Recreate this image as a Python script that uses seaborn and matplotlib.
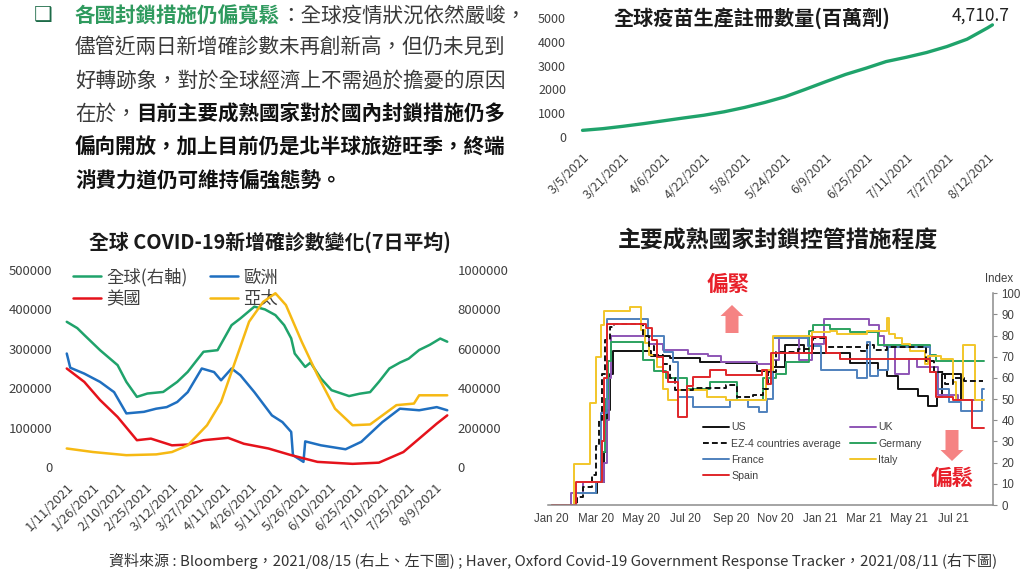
import pandas as pd
import numpy as np
import matplotlib.pyplot as plt
import matplotlib.patches as mpatches
import seaborn as sns

sns.set_theme(style='white')
plt.rcParams['font.family'] = ['Noto Sans CJK TC', 'DejaVu Sans']
plt.rcParams['axes.unicode_minus'] = False

# ---------- vaccine registrations (million doses) ----------
vax_dates = ['2021-03-05', '2021-03-13', '2021-03-21', '2021-03-29', '2021-04-06', '2021-04-14',
             '2021-04-22', '2021-04-30', '2021-05-08', '2021-05-16', '2021-05-24', '2021-06-01',
             '2021-06-09', '2021-06-17', '2021-06-25', '2021-07-03', '2021-07-11', '2021-07-19',
             '2021-07-27', '2021-08-04', '2021-08-12', '2021-08-14']
vax_vals = [280, 350, 450, 560, 680, 800, 915, 1060, 1240, 1450, 1690, 2000,
            2320, 2630, 2890, 3170, 3350, 3550, 3800, 4110, 4580, 4710.7]

# ---------- new covid cases, 7 day average ----------
glob_dates = ['2021-01-11', '2021-01-17', '2021-01-21', '2021-01-30', '2021-02-09', '2021-02-14',
              '2021-02-20', '2021-02-26', '2021-03-07', '2021-03-15', '2021-03-21', '2021-03-26',
              '2021-03-30', '2021-04-07', '2021-04-15', '2021-04-20', '2021-04-28', '2021-05-04',
              '2021-05-10', '2021-05-15', '2021-05-19', '2021-05-21', '2021-05-27', '2021-05-30',
              '2021-06-05', '2021-06-11', '2021-06-21', '2021-06-27', '2021-07-03', '2021-07-08',
              '2021-07-14', '2021-07-20', '2021-07-25', '2021-07-31', '2021-08-06', '2021-08-12',
              '2021-08-16']
glob_vals = [737000, 705000, 670000, 593000, 517000, 432000, 356000, 373000, 381000, 432000,
             483000, 540000, 585000, 593000, 720000, 754000, 814000, 800000, 771000, 720000,
             653000, 576000, 508000, 530000, 449000, 390000, 360000, 372000, 380000, 432000,
             500000, 530000, 550000, 594000, 620000, 652000, 636000]

eu_dates = ['2021-01-11', '2021-01-13', '2021-01-21', '2021-01-30', '2021-02-07', '2021-02-14',
            '2021-02-24', '2021-03-03', '2021-03-09', '2021-03-15', '2021-03-21', '2021-03-29',
            '2021-04-05', '2021-04-09', '2021-04-15', '2021-04-20', '2021-04-28', '2021-05-08',
            '2021-05-14', '2021-05-19', '2021-05-20', '2021-05-26', '2021-05-27', '2021-06-05',
            '2021-06-19', '2021-06-28', '2021-07-10', '2021-07-20', '2021-07-31', '2021-08-10',
            '2021-08-16']
eu_vals = [288000, 252000, 237000, 216000, 190000, 136000, 140000, 148000, 152000, 165000,
           190000, 250000, 241000, 220000, 250000, 233000, 190000, 131000, 114000, 89000,
           30000, 13000, 65000, 55000, 45000, 64000, 114000, 148000, 144000, 152000, 144000]

us_c_dates = ['2021-01-11', '2021-01-21', '2021-01-30', '2021-02-09', '2021-02-20', '2021-02-28',
              '2021-03-12', '2021-03-21', '2021-03-30', '2021-04-13', '2021-04-22', '2021-05-06',
              '2021-05-19', '2021-06-03', '2021-06-23', '2021-07-08', '2021-07-22', '2021-07-31',
              '2021-08-10', '2021-08-16']
us_c_vals = [250000, 216000, 170000, 127000, 68000, 72000, 55000, 57000, 68000, 74000, 59000,
             47000, 30000, 13000, 8000, 11000, 38000, 72000, 110000, 131000]

ap_dates = ['2021-01-11', '2021-01-26', '2021-02-14', '2021-03-03', '2021-03-12', '2021-03-21',
            '2021-04-01', '2021-04-09', '2021-04-17', '2021-04-25', '2021-05-03', '2021-05-10',
            '2021-05-16', '2021-05-25', '2021-06-03', '2021-06-13', '2021-06-23', '2021-07-03',
            '2021-07-18', '2021-07-28', '2021-07-31', '2021-08-16']
ap_vals = [47000, 38000, 30000, 32000, 38000, 55000, 106000, 165000, 267000, 369000, 419000,
           441000, 411000, 318000, 233000, 148000, 106000, 108000, 157000, 161000, 182000, 182000]

covid_ticks = pd.date_range('2021-01-11', '2021-08-09', freq='15D')

# ---------- stringency index ----------
us_dates = ['2020-01-01', '2020-02-03', '2020-03-03', '2020-03-12', '2020-03-16', '2020-03-20',
            '2020-03-24', '2020-05-15', '2020-06-10', '2020-07-21', '2020-08-26', '2020-10-06',
            '2020-10-26', '2020-11-14', '2020-12-10', '2021-02-10', '2021-03-20', '2021-04-01',
            '2021-04-17', '2021-05-14', '2021-05-27', '2021-06-09', '2021-06-16', '2021-07-11',
            '2021-08-10']
us_vals = [0, 5.6, 11.1, 25, 45, 62, 72.7, 70.4, 69.3, 67.7, 66.9, 63.4, 65, 75.5, 71.8,
           67.3, 64, 61, 55, 51.7, 47, 51, 62, 49.5, 49.5]

ez_dates = ['2020-01-01', '2020-02-05', '2020-02-12', '2020-02-25', '2020-03-01', '2020-03-05',
            '2020-03-10', '2020-03-14', '2020-03-20', '2020-03-26', '2020-05-04', '2020-05-12',
            '2020-05-20', '2020-06-01', '2020-06-10', '2020-06-17', '2020-07-12', '2020-08-25',
            '2020-09-10', '2020-10-01', '2020-10-15', '2020-10-22', '2020-11-02', '2020-12-01',
            '2020-12-22', '2021-01-09', '2021-02-25', '2021-03-05', '2021-03-15', '2021-04-01',
            '2021-05-25', '2021-06-05', '2021-06-20', '2021-07-01', '2021-07-15', '2021-08-10']
ez_vals = [0, 4, 8.6, 14, 28, 40, 62, 78, 84, 85.6, 80, 75, 71, 66.7, 60, 54.3, 55.5, 56.5,
           51, 52, 55, 63, 72.5, 73.5, 79, 74.5, 72.8, 75.5, 73, 74.5, 68, 63, 57, 60, 58.5, 58.5]

fr_dates = ['2020-01-01', '2020-02-01', '2020-03-01', '2020-03-08', '2020-03-16', '2020-05-11',
            '2020-06-02', '2020-06-14', '2020-06-21', '2020-07-12', '2020-08-31', '2020-09-25',
            '2020-10-10', '2020-10-20', '2020-10-28', '2020-12-15', '2021-01-02', '2021-02-20',
            '2021-03-06', '2021-03-10', '2021-03-20', '2021-04-03', '2021-05-30', '2021-06-09',
            '2021-06-25', '2021-07-12', '2021-08-09', '2021-08-12']
fr_vals = [0, 5.6, 11.1, 43.5, 88, 79.6, 72.2, 67.6, 50.9, 46.3, 49.5, 46.3, 44, 50, 78.7, 75,
           63.9, 60.2, 76.9, 61, 63.9, 74.5, 63, 55, 48.6, 44.5, 55, 55]

es_dates = ['2020-01-01', '2020-02-03', '2020-03-09', '2020-03-12', '2020-03-16', '2020-05-09',
            '2020-05-16', '2020-05-23', '2020-06-01', '2020-06-08', '2020-06-21', '2020-07-03',
            '2020-07-12', '2020-08-03', '2020-08-26', '2020-10-13', '2020-10-20', '2020-10-25',
            '2020-12-20', '2021-01-09', '2021-01-27', '2021-05-30', '2021-06-08', '2021-06-30',
            '2021-07-27', '2021-08-12']
es_vals = [0, 11.1, 30, 60, 85.6, 83.6, 78, 70, 63, 58.3, 41.7, 56, 60.6, 64, 61.4, 64, 57,
           71.6, 79.5, 71.6, 69, 62.7, 51, 49.4, 36.4, 36.4]

uk_dates = ['2020-01-01', '2020-01-28', '2020-02-12', '2020-03-12', '2020-03-16', '2020-03-19',
            '2020-03-22', '2020-05-12', '2020-06-01', '2020-07-04', '2020-08-01', '2020-08-18',
            '2020-10-06', '2020-10-26', '2020-11-05', '2020-12-03', '2020-12-20', '2021-01-06',
            '2021-03-08', '2021-03-22', '2021-03-29', '2021-04-12', '2021-05-01', '2021-05-12',
            '2021-06-10', '2021-07-08', '2021-08-10']
uk_vals = [0, 5.6, 11.1, 20, 40, 60, 79.6, 75.9, 73.1, 71.3, 70.4, 67.6, 66.7, 68.5, 79.6,
           68.5, 75.9, 87.9, 84.8, 80, 75, 62, 69, 65, 52, 49.4, 49.4]

de_dates = ['2020-01-01', '2020-02-01', '2020-03-01', '2020-03-09', '2020-03-14', '2020-03-18',
            '2020-03-22', '2020-05-04', '2020-05-20', '2020-06-05', '2020-07-03', '2020-08-03',
            '2020-09-10', '2020-10-15', '2020-11-02', '2020-11-15', '2020-12-16', '2020-12-22',
            '2021-01-14', '2021-02-10', '2021-03-20', '2021-05-30', '2021-06-08', '2021-08-12']
de_vals = [0, 5.6, 11.1, 25, 50, 68, 76.9, 68.5, 63.4, 60, 55, 58.3, 49.6, 60, 62, 67.6,
           82.4, 84.8, 83, 81.5, 75.5, 70.8, 67.8, 67.8]

it_dates = ['2020-01-01', '2020-01-31', '2020-02-22', '2020-03-01', '2020-03-08', '2020-03-12',
            '2020-04-17', '2020-05-02', '2020-05-07', '2020-05-12', '2020-05-23', '2020-06-01',
            '2020-06-08', '2020-06-21', '2020-07-31', '2020-08-25', '2020-10-19', '2020-10-28',
            '2020-12-20', '2021-01-14', '2021-01-24', '2021-03-05', '2021-04-01', '2021-04-04',
            '2021-04-12', '2021-04-22', '2021-05-03', '2021-05-24', '2021-05-28', '2021-06-14',
            '2021-06-30', '2021-07-05', '2021-07-14', '2021-07-30', '2021-08-12']
it_vals = [0, 19.4, 48, 70, 85.2, 91.7, 93.5, 82.7, 76.4, 70.9, 65.4, 55, 49.6, 54.3, 51,
           49.6, 63.8, 79.6, 81.5, 82.2, 80.6, 82.4, 88.4, 80.6, 79, 76, 72.8, 66.6, 70.5, 69,
           58, 49.4, 75.4, 49.4, 49.4]

str_ticks = pd.date_range('2020-01-01', '2021-07-01', freq='2MS')

GREEN = '#1fa36b'
BLUE = '#1f6fc0'
RED = '#e5121b'
YELLOW = '#f6b913'
TXT = '#3a3a3a'

fig = plt.figure(figsize=(10.24, 5.74), dpi=100)
W, H = 1024, 574


def box(l, t, r, b):
    return [l / W, 1 - b / H, (r - l) / W, (b - t) / H]


def mdy(d):
    return f"{d.month}/{d.day}/{d.year}"


# ---------- top right: vaccines ----------
ax1 = fig.add_axes(box(580, 18, 1000, 137))
sns.lineplot(x=pd.to_datetime(vax_dates), y=vax_vals, color=GREEN, lw=2.4, ax=ax1)
ax1.set_xlim(pd.Timestamp('2021-03-04'), pd.Timestamp('2021-08-17'))
ax1.set_ylim(0, 5000)
ax1.set_xlabel('')
ax1.set_ylabel('')
ax1.set_yticks(range(0, 5001, 1000))
vax_ticks = pd.date_range('2021-03-05', '2021-08-12', freq='16D')
ax1.set_xticks(vax_ticks)
ax1.set_xticklabels([mdy(d) for d in vax_ticks], rotation=45, ha='right', rotation_mode='anchor')
ax1.tick_params(axis='both', length=0, labelsize=9, colors='#404040')
ax1.tick_params(axis='y', pad=10)
ax1.tick_params(axis='x', pad=10)
sns.despine(ax=ax1, left=True, bottom=True)
ax1.annotate('4,710.7', xy=(pd.Timestamp(vax_dates[-1]), vax_vals[-1]), xytext=(-12, 9),
             textcoords='offset pixels', ha='center', va='center', fontsize=12.5, color='#222222')

# ---------- bottom left: covid cases ----------
ax2 = fig.add_axes(box(65, 270, 449, 467))
ax2r = ax2.twinx()
sns.lineplot(x=pd.to_datetime(glob_dates), y=glob_vals, color=GREEN, lw=1.8, ax=ax2r, label='全球(右軸)')
sns.lineplot(x=pd.to_datetime(eu_dates), y=eu_vals, color=BLUE, lw=1.8, ax=ax2, label='歐洲')
sns.lineplot(x=pd.to_datetime(us_c_dates), y=us_c_vals, color=RED, lw=1.8, ax=ax2, label='美國')
sns.lineplot(x=pd.to_datetime(ap_dates), y=ap_vals, color=YELLOW, lw=1.8, ax=ax2, label='亞太')
ax2.set_zorder(ax2r.get_zorder() + 1)
ax2.patch.set_visible(False)
for a in (ax2, ax2r):
    a.set_xlim(pd.Timestamp('2021-01-10'), pd.Timestamp('2021-08-17'))
    a.set_xlabel('')
    a.set_ylabel('')
    sns.despine(ax=a, left=True, bottom=True, right=True)
ax2.set_ylim(0, 500000)
ax2r.set_ylim(0, 1000000)
ax2.set_yticks(range(0, 500001, 100000))
ax2.set_yticklabels([str(v) for v in range(0, 500001, 100000)])
ax2r.set_yticks(range(0, 1000001, 200000))
ax2r.set_yticklabels([str(v) for v in range(0, 1000001, 200000)])
ax2.set_xticks(covid_ticks)
ax2.set_xticklabels([mdy(d) for d in covid_ticks], rotation=45, ha='right', rotation_mode='anchor')
ax2.tick_params(axis='both', length=0, labelsize=9.5, colors='#404040')
ax2.tick_params(axis='y', pad=9)
ax2.tick_params(axis='x', pad=10)
ax2r.tick_params(axis='y', length=0, labelsize=9.5, colors='#404040', pad=6)
ax2r.tick_params(axis='x', length=0, labelbottom=False)
if ax2.get_legend():
    ax2.get_legend().remove()
h_g = ax2r.get_lines()[0]
h_eu, h_us, h_ap = ax2.get_lines()[:3]
ax2r.legend([h_g, h_us, h_eu, h_ap], ['全球(右軸)', '美國', '歐洲', '亞太'], ncol=2,
            loc='upper left', bbox_to_anchor=(0.021, 1.01), frameon=False, fontsize=12.5,
            handlelength=1.6, handletextpad=0.3, columnspacing=1.3, labelspacing=0.2,
            borderpad=0, borderaxespad=0, labelcolor='#404040')

# ---------- bottom right: stringency ----------
ax3 = fig.add_axes(box(548, 293.3, 993, 505))
series = [
    ('US', us_dates, us_vals, '#111111', '-'),
    ('UK', uk_dates, uk_vals, '#8e55b5', '-'),
    ('Germany', de_dates, de_vals, '#2ca25f', '-'),
    ('France', fr_dates, fr_vals, '#4f81bd', '-'),
    ('Italy', it_dates, it_vals, '#f2c62a', '-'),
    ('EZ-4 countries average', ez_dates, ez_vals, '#111111', '--'),
    ('Spain', es_dates, es_vals, '#e0262a', '-'),
]
handles = {}
for name, d, v, c, ls in series:
    sns.lineplot(x=pd.to_datetime(d), y=v, color=c, lw=1.4, linestyle=ls,
                 drawstyle='steps-post', ax=ax3)
    handles[name] = ax3.get_lines()[-1]
handles['EZ-4 countries average'].set_dashes((3, 1.6))
ax3.set_xlim(pd.Timestamp('2019-12-27'), pd.Timestamp('2021-08-24'))
ax3.set_ylim(0, 100)
ax3.set_xlabel('')
ax3.set_ylabel('')
ax3.yaxis.tick_right()
ax3.set_yticks(range(0, 101, 10))
ax3.set_xticks(str_ticks)
ax3.set_xticklabels([d.strftime('%b %y') for d in str_ticks])
for s in ('left', 'top'):
    ax3.spines[s].set_visible(False)
for s in ('right', 'bottom'):
    ax3.spines[s].set_color('#8c8c8c')
    ax3.spines[s].set_linewidth(1.1)
ax3.tick_params(axis='both', direction='out', length=3, width=0.8, color='#8c8c8c',
                labelsize=8.3, labelcolor='#404040', pad=3)
for lab in ax3.get_xticklabels() + ax3.get_yticklabels():
    lab.set_fontfamily(['Liberation Sans', 'DejaVu Sans'])
order = ['US', 'EZ-4 countries average', 'France', 'Spain', 'UK', 'Germany', 'Italy']
leg = ax3.legend([handles[n] for n in order], order, ncol=2, loc='upper left',
                 bbox_to_anchor=(0.348, 0.39), frameon=False,
                 prop={'family': ['Liberation Sans', 'DejaVu Sans'], 'size': 7.6},
                 handlelength=2.5, handletextpad=0.2, columnspacing=0.8, labelspacing=0.58,
                 borderpad=0, borderaxespad=0, labelcolor='#404040')

# ---------- overlay: texts, arrows ----------
ov = fig.add_axes([0, 0, 1, 1], zorder=10)
ov.set_xlim(0, W)
ov.set_ylim(H, 0)
ov.axis('off')

ov.text(43, 15, '❑', family=['DejaVu Sans'], fontsize=15, color='#1d6b48', ha='center', va='center')
lines = [
    [('各國封鎖措施仍偏寬鬆', '#2f9a5e', 'bold'), ('：全球疫情狀況依然嚴峻，', TXT, 'normal')],
    [('儘管近兩日新增確診數未再創新高，但仍未見到', TXT, 'normal')],
    [('好轉跡象，對於全球經濟上不需過於擔憂的原因', TXT, 'normal')],
    [('在於，', TXT, 'normal'), ('目前主要成熟國家對於國內封鎖措施仍多', '#111111', 'bold')],
    [('偏向開放，加上目前仍是北半球旅遊旺季，終端', '#111111', 'bold')],
    [('消費力道仍可維持偏強態勢。', '#111111', 'bold')],
]
line_y = [16, 48, 81, 114, 147, 181]
for segs, y in zip(lines, line_y):
    prev = None
    for s, c, w in segs:
        if prev is None:
            prev = ov.text(75, y, s, color=c, weight=w, fontsize=14.8, ha='left', va='center')
        else:
            prev = ov.annotate(s, xy=(1, 0), xycoords=prev, color=c, weight=w, fontsize=14.8,
                               ha='left', va='bottom')

ov.text(752, 18, '全球疫苗生產註冊數量(百萬劑)', fontsize=14.5, weight='bold', color='#1a1a1a',
        ha='center', va='center')
ov.text(270, 242, '全球 COVID-19新增確診數變化(7日平均)', fontsize=14.3, weight='bold',
        color='#1a1a1a', ha='center', va='center')
ov.text(778, 241, '主要成熟國家封鎖控管措施程度', fontsize=16.5, weight='bold', color='#1a1a1a',
        ha='center', va='center')
ov.text(999, 279, 'Index', fontsize=8.3, color='#404040', ha='center', va='center',
        family=['Liberation Sans', 'DejaVu Sans'])

ov.add_patch(mpatches.FancyArrow(732, 333, 0, -28, width=13, head_width=23, head_length=11,
                                 length_includes_head=True, color='#f58383', lw=0))
ov.add_patch(mpatches.FancyArrow(952, 430, 0, 31, width=13, head_width=23, head_length=11,
                                 length_includes_head=True, color='#f58383', lw=0))
ov.text(728, 284, '偏緊', fontsize=15.5, weight='bold', color='#e8202a', ha='center', va='center')
ov.text(952, 478, '偏鬆', fontsize=15.5, weight='bold', color='#e8202a', ha='center', va='center')

ov.text(553, 561, '資料來源 : Bloomberg，2021/08/15 (右上、左下圖) ; Haver, Oxford Covid-19 Government '
        'Response Tracker，2021/08/11 (右下圖)', fontsize=10.8, color='#333333', ha='center', va='center')

fig.savefig('out.png', dpi=100)
